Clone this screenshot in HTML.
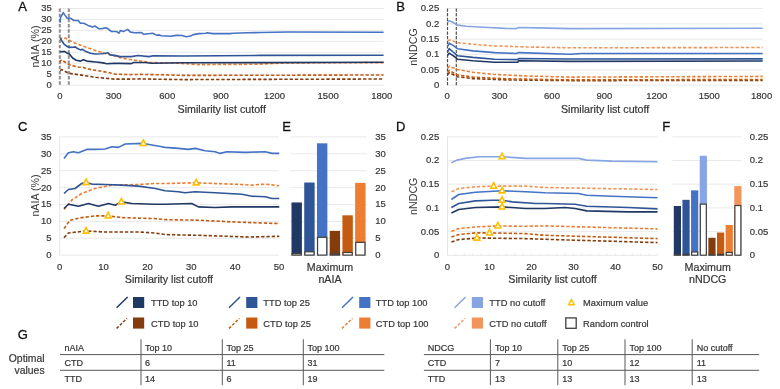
<!DOCTYPE html>
<html><head><meta charset="utf-8"><style>
html,body{margin:0;padding:0;background:#fff;}
body{width:780px;height:389px;overflow:hidden;}
svg{display:block;will-change:transform;font-family:"Liberation Sans",sans-serif;}
</style></head><body>
<svg width="780" height="389" viewBox="0 0 780 389">
<rect width="780" height="389" fill="#fff"/>
<text transform="translate(18.30,11.00) scale(1,1.0)" font-size="13" text-anchor="start" fill="#111" stroke="#111" stroke-width="0.3" >A</text>
<line x1="59.80" y1="85.20" x2="383.60" y2="85.20" stroke="#e3e3e3" stroke-width="0.8" />
<text transform="translate(51.80,88.10) scale(1,1.0)" font-size="9.5" text-anchor="end" fill="#363636" stroke="#363636" stroke-width="0.2" >0</text>
<line x1="59.80" y1="74.24" x2="383.60" y2="74.24" stroke="#e3e3e3" stroke-width="0.8" />
<text transform="translate(51.80,77.14) scale(1,1.0)" font-size="9.5" text-anchor="end" fill="#363636" stroke="#363636" stroke-width="0.2" >5</text>
<line x1="59.80" y1="63.29" x2="383.60" y2="63.29" stroke="#e3e3e3" stroke-width="0.8" />
<text transform="translate(51.80,66.19) scale(1,1.0)" font-size="9.5" text-anchor="end" fill="#363636" stroke="#363636" stroke-width="0.2" >10</text>
<line x1="59.80" y1="52.33" x2="383.60" y2="52.33" stroke="#e3e3e3" stroke-width="0.8" />
<text transform="translate(51.80,55.23) scale(1,1.0)" font-size="9.5" text-anchor="end" fill="#363636" stroke="#363636" stroke-width="0.2" >15</text>
<line x1="59.80" y1="41.37" x2="383.60" y2="41.37" stroke="#e3e3e3" stroke-width="0.8" />
<text transform="translate(51.80,44.27) scale(1,1.0)" font-size="9.5" text-anchor="end" fill="#363636" stroke="#363636" stroke-width="0.2" >20</text>
<line x1="59.80" y1="30.41" x2="383.60" y2="30.41" stroke="#e3e3e3" stroke-width="0.8" />
<text transform="translate(51.80,33.31) scale(1,1.0)" font-size="9.5" text-anchor="end" fill="#363636" stroke="#363636" stroke-width="0.2" >25</text>
<line x1="59.80" y1="19.46" x2="383.60" y2="19.46" stroke="#e3e3e3" stroke-width="0.8" />
<text transform="translate(51.80,22.36) scale(1,1.0)" font-size="9.5" text-anchor="end" fill="#363636" stroke="#363636" stroke-width="0.2" >30</text>
<line x1="59.80" y1="8.50" x2="383.60" y2="8.50" stroke="#e3e3e3" stroke-width="0.8" />
<text transform="translate(51.80,11.40) scale(1,1.0)" font-size="9.5" text-anchor="end" fill="#363636" stroke="#363636" stroke-width="0.2" >35</text>
<text transform="translate(60.00,99.30) scale(1,1.0)" font-size="9.5" text-anchor="middle" fill="#363636" stroke="#363636" stroke-width="0.2" >0</text>
<text transform="translate(113.63,99.30) scale(1,1.0)" font-size="9.5" text-anchor="middle" fill="#363636" stroke="#363636" stroke-width="0.2" >300</text>
<text transform="translate(167.26,99.30) scale(1,1.0)" font-size="9.5" text-anchor="middle" fill="#363636" stroke="#363636" stroke-width="0.2" >600</text>
<text transform="translate(220.89,99.30) scale(1,1.0)" font-size="9.5" text-anchor="middle" fill="#363636" stroke="#363636" stroke-width="0.2" >900</text>
<text transform="translate(274.52,99.30) scale(1,1.0)" font-size="9.5" text-anchor="middle" fill="#363636" stroke="#363636" stroke-width="0.2" >1200</text>
<text transform="translate(328.15,99.30) scale(1,1.0)" font-size="9.5" text-anchor="middle" fill="#363636" stroke="#363636" stroke-width="0.2" >1500</text>
<text transform="translate(381.78,99.30) scale(1,1.0)" font-size="9.5" text-anchor="middle" fill="#363636" stroke="#363636" stroke-width="0.2" >1800</text>
<text transform="translate(221.70,112.70) scale(1,1.0)" font-size="10.7" text-anchor="middle" fill="#363636" stroke="#363636" stroke-width="0.2" >Similarity list cutoff</text>
<text transform="translate(39.3,46.5) rotate(-90)" font-size="10.7" text-anchor="middle" fill="#363636">nAIA (%)</text>
<line x1="59.80" y1="8.50" x2="59.80" y2="85.20" stroke="#8f8f8f" stroke-width="2.0" stroke-dasharray="3.4 1.8"/>
<line x1="68.80" y1="8.50" x2="68.80" y2="85.20" stroke="#8f8f8f" stroke-width="2.0" stroke-dasharray="3.4 1.8"/>
<polyline points="60.00,70.40 61.80,69.70 69.00,73.30 78.00,74.60 86.90,76.00 95.90,77.30 104.90,78.20 113.90,79.10 130.00,79.10 140.10,78.90 162.20,79.30 183.00,79.60 383.60,79.00" fill="none" stroke="#843c0c" stroke-width="1.6" stroke-linejoin="round" stroke-dasharray="3.3 1.95"/>
<polyline points="60.00,62.50 60.60,60.70 61.80,59.80 64.00,61.50 69.00,64.70 78.00,67.00 83.30,67.40 91.40,69.70 100.40,71.00 109.40,72.80 115.70,74.20 130.00,74.60 140.10,74.40 162.20,74.80 183.00,75.40 383.60,75.00" fill="none" stroke="#c55a11" stroke-width="1.6" stroke-linejoin="round" stroke-dasharray="3.3 1.95"/>
<polyline points="60.00,40.50 61.60,38.30 66.00,38.30 72.70,42.20 82.60,46.00 93.70,49.90 104.70,53.20 112.50,55.40 121.30,58.00 129.00,59.40 140.10,61.00 151.10,62.50 178.00,63.30 200.20,64.70 219.60,64.40 255.40,64.30 287.70,62.90 383.60,62.60" fill="none" stroke="#ed7d31" stroke-width="1.6" stroke-linejoin="round" stroke-dasharray="3.3 1.95"/>
<polyline points="60.30,52.10 62.20,51.60 64.90,51.60 67.20,53.20 69.40,54.00 72.60,58.00 76.20,60.20 80.60,61.10 83.30,59.80 86.90,61.10 95.90,62.00 103.10,62.90 106.70,63.80 113.90,63.40 120.00,63.40 131.30,63.60 133.50,62.50 145.60,62.50 151.10,63.20 183.00,62.70 260.00,62.60 383.60,62.30" fill="none" stroke="#203864" stroke-width="1.6" stroke-linejoin="round"/>
<polyline points="60.30,37.80 61.60,40.50 63.80,43.80 67.20,46.60 69.40,47.40 73.20,47.20 75.40,46.90 77.10,48.30 80.40,49.90 82.60,49.40 85.90,51.60 90.40,53.20 94.80,54.00 101.40,53.80 105.80,53.20 108.00,52.70 110.20,54.90 114.70,55.40 120.00,56.60 131.30,56.60 137.90,55.50 148.90,56.60 153.40,55.70 183.00,56.00 260.00,55.40 383.60,55.30" fill="none" stroke="#2f5597" stroke-width="1.6" stroke-linejoin="round"/>
<polyline points="60.00,22.70 60.50,17.70 61.60,15.50 63.30,12.70 64.40,14.40 66.00,16.60 67.20,18.30 69.40,18.00 71.60,18.80 73.80,20.50 78.20,20.50 80.40,23.20 83.70,23.20 88.10,25.40 92.60,27.10 94.80,26.00 99.20,28.80 101.40,28.80 105.80,27.70 108.00,28.80 111.40,31.50 115.80,31.50 117.20,31.80 118.90,33.20 120.50,30.50 123.30,31.60 127.70,29.40 130.50,32.10 134.90,32.70 141.50,32.50 143.70,34.30 152.60,33.20 157.00,35.40 159.20,34.90 161.40,35.80 170.20,36.20 176.90,35.40 182.20,35.50 186.30,36.70 190.50,36.00 193.30,34.60 198.80,33.60 205.80,33.20 207.10,32.80 212.70,33.60 229.30,33.60 233.50,33.20 247.40,32.80 260.00,32.50 287.70,32.00 383.60,32.30" fill="none" stroke="#4472c4" stroke-width="1.6" stroke-linejoin="round"/>
<text transform="translate(396.20,10.60) scale(1,1.0)" font-size="13" text-anchor="start" fill="#111" stroke="#111" stroke-width="0.3" >B</text>
<line x1="447.50" y1="85.20" x2="762.70" y2="85.20" stroke="#e3e3e3" stroke-width="0.8" />
<text transform="translate(439.20,88.10) scale(1,1.0)" font-size="9.5" text-anchor="end" fill="#363636" stroke="#363636" stroke-width="0.2" >0</text>
<line x1="447.50" y1="69.86" x2="762.70" y2="69.86" stroke="#e3e3e3" stroke-width="0.8" />
<text transform="translate(439.20,72.76) scale(1,1.0)" font-size="9.5" text-anchor="end" fill="#363636" stroke="#363636" stroke-width="0.2" >0.05</text>
<line x1="447.50" y1="54.52" x2="762.70" y2="54.52" stroke="#e3e3e3" stroke-width="0.8" />
<text transform="translate(439.20,57.42) scale(1,1.0)" font-size="9.5" text-anchor="end" fill="#363636" stroke="#363636" stroke-width="0.2" >0.1</text>
<line x1="447.50" y1="39.18" x2="762.70" y2="39.18" stroke="#e3e3e3" stroke-width="0.8" />
<text transform="translate(439.20,42.08) scale(1,1.0)" font-size="9.5" text-anchor="end" fill="#363636" stroke="#363636" stroke-width="0.2" >0.15</text>
<line x1="447.50" y1="23.84" x2="762.70" y2="23.84" stroke="#e3e3e3" stroke-width="0.8" />
<text transform="translate(439.20,26.74) scale(1,1.0)" font-size="9.5" text-anchor="end" fill="#363636" stroke="#363636" stroke-width="0.2" >0.2</text>
<line x1="447.50" y1="8.50" x2="762.70" y2="8.50" stroke="#e3e3e3" stroke-width="0.8" />
<text transform="translate(439.20,11.40) scale(1,1.0)" font-size="9.5" text-anchor="end" fill="#363636" stroke="#363636" stroke-width="0.2" >0.25</text>
<text transform="translate(447.20,99.30) scale(1,1.0)" font-size="9.5" text-anchor="middle" fill="#363636" stroke="#363636" stroke-width="0.2" >0</text>
<text transform="translate(499.60,99.30) scale(1,1.0)" font-size="9.5" text-anchor="middle" fill="#363636" stroke="#363636" stroke-width="0.2" >300</text>
<text transform="translate(552.00,99.30) scale(1,1.0)" font-size="9.5" text-anchor="middle" fill="#363636" stroke="#363636" stroke-width="0.2" >600</text>
<text transform="translate(604.40,99.30) scale(1,1.0)" font-size="9.5" text-anchor="middle" fill="#363636" stroke="#363636" stroke-width="0.2" >900</text>
<text transform="translate(656.80,99.30) scale(1,1.0)" font-size="9.5" text-anchor="middle" fill="#363636" stroke="#363636" stroke-width="0.2" >1200</text>
<text transform="translate(709.20,99.30) scale(1,1.0)" font-size="9.5" text-anchor="middle" fill="#363636" stroke="#363636" stroke-width="0.2" >1500</text>
<text transform="translate(761.60,99.30) scale(1,1.0)" font-size="9.5" text-anchor="middle" fill="#363636" stroke="#363636" stroke-width="0.2" >1800</text>
<text transform="translate(605.10,112.70) scale(1,1.0)" font-size="10.7" text-anchor="middle" fill="#363636" stroke="#363636" stroke-width="0.2" >Similarity list cutoff</text>
<text transform="translate(417.0,47) rotate(-90)" font-size="10.7" text-anchor="middle" fill="#363636">nNDCG</text>
<line x1="447.50" y1="8.50" x2="447.50" y2="85.20" stroke="#505050" stroke-width="1.2" stroke-dasharray="3.2 1.4"/>
<line x1="456.30" y1="8.50" x2="456.30" y2="85.20" stroke="#505050" stroke-width="1.2" stroke-dasharray="3.2 1.4"/>
<polyline points="447.60,74.90 449.20,72.70 457.50,76.70 472.80,78.60 505.50,79.90 570.00,80.60 762.70,80.50" fill="none" stroke="#843c0c" stroke-width="1.6" stroke-linejoin="round" stroke-dasharray="3.3 1.95"/>
<polyline points="447.60,72.70 449.20,70.50 457.50,74.90 472.80,77.10 505.50,78.80 570.00,79.90 762.70,79.50" fill="none" stroke="#c55a11" stroke-width="1.6" stroke-linejoin="round" stroke-dasharray="3.3 1.95"/>
<polyline points="447.60,68.40 449.20,66.20 457.50,69.50 472.80,72.30 494.60,74.50 527.40,76.00 570.00,77.10 762.70,76.40" fill="none" stroke="#ed7d31" stroke-width="1.6" stroke-linejoin="round" stroke-dasharray="3.3 1.95"/>
<polyline points="447.60,41.00 449.80,40.00 457.50,42.60 472.80,44.30 494.60,45.90 527.40,47.00 570.00,47.80 762.70,47.50" fill="none" stroke="#f1955b" stroke-width="1.6" stroke-linejoin="round" stroke-dasharray="3.3 1.95"/>
<polyline points="447.60,55.30 449.20,53.10 453.10,55.70 457.50,59.20 472.80,60.70 494.60,62.20 517.60,62.20 518.70,60.70 570.00,61.40 762.70,61.00" fill="none" stroke="#203864" stroke-width="1.6" stroke-linejoin="round"/>
<polyline points="447.60,52.00 449.20,48.70 453.10,52.00 457.50,55.70 472.80,57.40 494.60,59.20 517.60,59.60 518.70,58.50 570.00,59.00 762.70,58.90" fill="none" stroke="#2f5597" stroke-width="1.6" stroke-linejoin="round"/>
<polyline points="447.60,46.50 449.20,43.20 453.10,45.40 457.50,48.70 472.80,50.90 494.60,52.60 516.50,53.50 518.70,52.60 570.00,54.20 581.50,53.50 762.70,53.50" fill="none" stroke="#4472c4" stroke-width="1.6" stroke-linejoin="round"/>
<polyline points="447.60,22.00 449.20,20.70 453.10,22.50 457.50,25.10 466.20,26.20 483.70,27.30 505.50,28.40 516.50,28.60 518.70,27.50 538.30,27.90 570.00,28.60 762.70,28.20" fill="none" stroke="#86a5e2" stroke-width="1.6" stroke-linejoin="round"/>
<text transform="translate(18.00,131.00) scale(1,1.0)" font-size="13" text-anchor="start" fill="#111" stroke="#111" stroke-width="0.3" >C</text>
<line x1="59.75" y1="255.20" x2="279.00" y2="255.20" stroke="#e3e3e3" stroke-width="0.8" />
<text transform="translate(51.60,258.10) scale(1,1.0)" font-size="9.5" text-anchor="end" fill="#363636" stroke="#363636" stroke-width="0.2" >0</text>
<line x1="59.75" y1="238.30" x2="279.00" y2="238.30" stroke="#e3e3e3" stroke-width="0.8" />
<text transform="translate(51.60,241.20) scale(1,1.0)" font-size="9.5" text-anchor="end" fill="#363636" stroke="#363636" stroke-width="0.2" >5</text>
<line x1="59.75" y1="221.40" x2="279.00" y2="221.40" stroke="#e3e3e3" stroke-width="0.8" />
<text transform="translate(51.60,224.30) scale(1,1.0)" font-size="9.5" text-anchor="end" fill="#363636" stroke="#363636" stroke-width="0.2" >10</text>
<line x1="59.75" y1="204.50" x2="279.00" y2="204.50" stroke="#e3e3e3" stroke-width="0.8" />
<text transform="translate(51.60,207.40) scale(1,1.0)" font-size="9.5" text-anchor="end" fill="#363636" stroke="#363636" stroke-width="0.2" >15</text>
<line x1="59.75" y1="187.60" x2="279.00" y2="187.60" stroke="#e3e3e3" stroke-width="0.8" />
<text transform="translate(51.60,190.50) scale(1,1.0)" font-size="9.5" text-anchor="end" fill="#363636" stroke="#363636" stroke-width="0.2" >20</text>
<line x1="59.75" y1="170.70" x2="279.00" y2="170.70" stroke="#e3e3e3" stroke-width="0.8" />
<text transform="translate(51.60,173.60) scale(1,1.0)" font-size="9.5" text-anchor="end" fill="#363636" stroke="#363636" stroke-width="0.2" >25</text>
<line x1="59.75" y1="153.80" x2="279.00" y2="153.80" stroke="#e3e3e3" stroke-width="0.8" />
<text transform="translate(51.60,156.70) scale(1,1.0)" font-size="9.5" text-anchor="end" fill="#363636" stroke="#363636" stroke-width="0.2" >30</text>
<line x1="59.75" y1="136.90" x2="279.00" y2="136.90" stroke="#e3e3e3" stroke-width="0.8" />
<text transform="translate(51.60,139.80) scale(1,1.0)" font-size="9.5" text-anchor="end" fill="#363636" stroke="#363636" stroke-width="0.2" >35</text>
<line x1="59.75" y1="136.90" x2="59.75" y2="255.20" stroke="#e3e3e3" stroke-width="0.9" />
<text transform="translate(59.75,269.90) scale(1,1.0)" font-size="9.5" text-anchor="middle" fill="#363636" stroke="#363636" stroke-width="0.2" >0</text>
<text transform="translate(103.60,269.90) scale(1,1.0)" font-size="9.5" text-anchor="middle" fill="#363636" stroke="#363636" stroke-width="0.2" >10</text>
<text transform="translate(147.45,269.90) scale(1,1.0)" font-size="9.5" text-anchor="middle" fill="#363636" stroke="#363636" stroke-width="0.2" >20</text>
<text transform="translate(191.30,269.90) scale(1,1.0)" font-size="9.5" text-anchor="middle" fill="#363636" stroke="#363636" stroke-width="0.2" >30</text>
<text transform="translate(235.15,269.90) scale(1,1.0)" font-size="9.5" text-anchor="middle" fill="#363636" stroke="#363636" stroke-width="0.2" >40</text>
<text transform="translate(279.00,269.90) scale(1,1.0)" font-size="9.5" text-anchor="middle" fill="#363636" stroke="#363636" stroke-width="0.2" >50</text>
<text transform="translate(168.90,283.30) scale(1,1.0)" font-size="10.7" text-anchor="middle" fill="#363636" stroke="#363636" stroke-width="0.2" >Similarity list cutoff</text>
<text transform="translate(39.3,195.5) rotate(-90)" font-size="10.7" text-anchor="middle" fill="#363636">nAIA (%)</text>
<polyline points="64.00,237.60 68.40,233.00 86.10,231.00 105.10,232.00 138.60,232.00 155.30,233.00 165.00,234.60 198.40,235.30 248.60,237.00 279.30,236.30" fill="none" stroke="#843c0c" stroke-width="1.6" stroke-linejoin="round" stroke-dasharray="3.3 1.95"/>
<polyline points="64.00,228.60 70.00,220.20 81.70,217.60 95.10,215.90 107.80,215.90 121.80,217.60 155.30,218.60 165.00,219.60 198.40,220.20 231.80,221.90 279.30,223.60" fill="none" stroke="#c55a11" stroke-width="1.6" stroke-linejoin="round" stroke-dasharray="3.3 1.95"/>
<polyline points="64.00,209.50 71.70,200.20 81.70,193.50 95.10,188.50 111.80,185.10 138.60,184.50 155.30,183.50 165.00,183.50 195.10,182.80 231.80,184.10 251.90,185.10 265.30,184.10 279.30,185.80" fill="none" stroke="#ed7d31" stroke-width="1.6" stroke-linejoin="round" stroke-dasharray="3.3 1.95"/>
<polyline points="64.00,208.50 68.40,204.20 78.40,206.20 88.40,203.50 98.40,206.20 108.50,203.50 115.20,205.20 121.20,201.90 131.90,203.50 155.30,204.20 165.00,204.20 191.70,203.50 198.40,206.90 215.10,207.50 231.80,206.90 279.30,206.90" fill="none" stroke="#203864" stroke-width="1.6" stroke-linejoin="round"/>
<polyline points="64.00,193.50 68.40,189.50 75.00,188.50 81.70,183.50 86.10,182.50 91.80,184.10 105.10,184.50 121.80,185.10 138.60,186.10 155.30,188.50 165.00,190.80 178.40,191.80 185.00,192.80 195.10,191.80 215.10,192.80 241.90,194.20 251.90,196.20 265.30,196.80 272.00,198.50 279.30,198.50" fill="none" stroke="#2f5597" stroke-width="1.6" stroke-linejoin="round"/>
<polyline points="64.00,158.40 68.40,152.70 73.40,151.70 78.40,152.70 86.80,149.40 95.10,149.40 105.10,149.00 111.80,146.70 118.50,147.40 125.20,144.00 142.60,143.40 151.90,145.00 161.90,146.70 165.00,147.40 178.40,148.40 188.40,149.40 195.10,148.40 205.10,150.70 215.10,151.70 220.10,153.40 226.80,151.70 245.20,152.40 265.30,151.70 272.00,153.40 279.30,153.40" fill="none" stroke="#4472c4" stroke-width="1.6" stroke-linejoin="round"/>
<polygon points="143.35,139.98 146.25,145.49 140.45,145.49" fill="#fff" stroke="#ffc000" stroke-width="1.6" stroke-linejoin="miter"/>
<polygon points="86.15,179.08 89.05,184.59 83.25,184.59" fill="#fff" stroke="#ffc000" stroke-width="1.6" stroke-linejoin="miter"/>
<polygon points="121.35,198.48 124.25,203.99 118.45,203.99" fill="#fff" stroke="#ffc000" stroke-width="1.6" stroke-linejoin="miter"/>
<polygon points="108.15,212.48 111.05,217.99 105.25,217.99" fill="#fff" stroke="#ffc000" stroke-width="1.6" stroke-linejoin="miter"/>
<polygon points="86.15,227.58 89.05,233.09 83.25,233.09" fill="#fff" stroke="#ffc000" stroke-width="1.6" stroke-linejoin="miter"/>
<polygon points="196.15,179.38 199.05,184.89 193.25,184.89" fill="#fff" stroke="#ffc000" stroke-width="1.6" stroke-linejoin="miter"/>
<text transform="translate(282.30,131.00) scale(1,1.0)" font-size="13" text-anchor="start" fill="#111" stroke="#111" stroke-width="0.3" >E</text>
<line x1="290.00" y1="255.20" x2="367.00" y2="255.20" stroke="#e3e3e3" stroke-width="0.8" />
<text transform="translate(375.30,258.10) scale(1,1.0)" font-size="9.5" text-anchor="start" fill="#363636" stroke="#363636" stroke-width="0.2" >0</text>
<line x1="290.00" y1="238.30" x2="367.00" y2="238.30" stroke="#e3e3e3" stroke-width="0.8" />
<text transform="translate(375.30,241.20) scale(1,1.0)" font-size="9.5" text-anchor="start" fill="#363636" stroke="#363636" stroke-width="0.2" >5</text>
<line x1="290.00" y1="221.40" x2="367.00" y2="221.40" stroke="#e3e3e3" stroke-width="0.8" />
<text transform="translate(375.30,224.30) scale(1,1.0)" font-size="9.5" text-anchor="start" fill="#363636" stroke="#363636" stroke-width="0.2" >10</text>
<line x1="290.00" y1="204.50" x2="367.00" y2="204.50" stroke="#e3e3e3" stroke-width="0.8" />
<text transform="translate(375.30,207.40) scale(1,1.0)" font-size="9.5" text-anchor="start" fill="#363636" stroke="#363636" stroke-width="0.2" >15</text>
<line x1="290.00" y1="187.60" x2="367.00" y2="187.60" stroke="#e3e3e3" stroke-width="0.8" />
<text transform="translate(375.30,190.50) scale(1,1.0)" font-size="9.5" text-anchor="start" fill="#363636" stroke="#363636" stroke-width="0.2" >20</text>
<line x1="290.00" y1="170.70" x2="367.00" y2="170.70" stroke="#e3e3e3" stroke-width="0.8" />
<text transform="translate(375.30,173.60) scale(1,1.0)" font-size="9.5" text-anchor="start" fill="#363636" stroke="#363636" stroke-width="0.2" >25</text>
<line x1="290.00" y1="153.80" x2="367.00" y2="153.80" stroke="#e3e3e3" stroke-width="0.8" />
<text transform="translate(375.30,156.70) scale(1,1.0)" font-size="9.5" text-anchor="start" fill="#363636" stroke="#363636" stroke-width="0.2" >30</text>
<line x1="290.00" y1="136.90" x2="367.00" y2="136.90" stroke="#e3e3e3" stroke-width="0.8" />
<text transform="translate(375.30,139.80) scale(1,1.0)" font-size="9.5" text-anchor="start" fill="#363636" stroke="#363636" stroke-width="0.2" >35</text>
<rect x="291.50" y="202.47" width="10.40" height="52.73" fill="#203864" stroke="none" stroke-width="0"/>
<rect x="292.10" y="253.51" width="9.20" height="1.59" fill="#fff" stroke="#3f3f3f" stroke-width="1.2"/>
<rect x="304.23" y="182.53" width="10.40" height="72.67" fill="#2f5597" stroke="none" stroke-width="0"/>
<rect x="304.83" y="251.82" width="9.20" height="3.28" fill="#fff" stroke="#3f3f3f" stroke-width="1.2"/>
<rect x="316.96" y="143.32" width="10.40" height="111.88" fill="#4472c4" stroke="none" stroke-width="0"/>
<rect x="317.56" y="237.29" width="9.20" height="17.81" fill="#fff" stroke="#3f3f3f" stroke-width="1.2"/>
<rect x="329.69" y="230.86" width="10.40" height="24.34" fill="#843c0c" stroke="none" stroke-width="0"/>
<rect x="330.29" y="253.85" width="9.20" height="1.25" fill="#fff" stroke="#3f3f3f" stroke-width="1.2"/>
<rect x="342.42" y="215.32" width="10.40" height="39.88" fill="#c55a11" stroke="none" stroke-width="0"/>
<rect x="343.02" y="252.50" width="9.20" height="2.60" fill="#fff" stroke="#3f3f3f" stroke-width="1.2"/>
<rect x="355.15" y="182.87" width="10.40" height="72.33" fill="#ed7d31" stroke="none" stroke-width="0"/>
<rect x="355.75" y="242.36" width="9.20" height="12.74" fill="#fff" stroke="#3f3f3f" stroke-width="1.2"/>
<text transform="translate(330.00,270.80) scale(1,1.0)" font-size="10.7" text-anchor="middle" fill="#363636" stroke="#363636" stroke-width="0.2" >Maximum</text>
<text transform="translate(330.00,283.40) scale(1,1.0)" font-size="10.7" text-anchor="middle" fill="#363636" stroke="#363636" stroke-width="0.2" >nAIA</text>
<text transform="translate(396.00,131.30) scale(1,1.0)" font-size="13" text-anchor="start" fill="#111" stroke="#111" stroke-width="0.3" >D</text>
<line x1="447.50" y1="255.30" x2="657.50" y2="255.30" stroke="#e3e3e3" stroke-width="0.8" />
<text transform="translate(439.20,258.20) scale(1,1.0)" font-size="9.5" text-anchor="end" fill="#363636" stroke="#363636" stroke-width="0.2" >0</text>
<line x1="447.50" y1="231.60" x2="657.50" y2="231.60" stroke="#e3e3e3" stroke-width="0.8" />
<text transform="translate(439.20,234.50) scale(1,1.0)" font-size="9.5" text-anchor="end" fill="#363636" stroke="#363636" stroke-width="0.2" >0.05</text>
<line x1="447.50" y1="207.90" x2="657.50" y2="207.90" stroke="#e3e3e3" stroke-width="0.8" />
<text transform="translate(439.20,210.80) scale(1,1.0)" font-size="9.5" text-anchor="end" fill="#363636" stroke="#363636" stroke-width="0.2" >0.1</text>
<line x1="447.50" y1="184.20" x2="657.50" y2="184.20" stroke="#e3e3e3" stroke-width="0.8" />
<text transform="translate(439.20,187.10) scale(1,1.0)" font-size="9.5" text-anchor="end" fill="#363636" stroke="#363636" stroke-width="0.2" >0.15</text>
<line x1="447.50" y1="160.50" x2="657.50" y2="160.50" stroke="#e3e3e3" stroke-width="0.8" />
<text transform="translate(439.20,163.40) scale(1,1.0)" font-size="9.5" text-anchor="end" fill="#363636" stroke="#363636" stroke-width="0.2" >0.2</text>
<line x1="447.50" y1="136.80" x2="657.50" y2="136.80" stroke="#e3e3e3" stroke-width="0.8" />
<text transform="translate(439.20,139.70) scale(1,1.0)" font-size="9.5" text-anchor="end" fill="#363636" stroke="#363636" stroke-width="0.2" >0.25</text>
<line x1="447.50" y1="136.80" x2="447.50" y2="255.30" stroke="#e3e3e3" stroke-width="0.9" />
<line x1="455.90" y1="253.50" x2="455.90" y2="255.30" stroke="#e3e3e3" stroke-width="0.8" />
<line x1="464.30" y1="253.50" x2="464.30" y2="255.30" stroke="#e3e3e3" stroke-width="0.8" />
<line x1="472.70" y1="253.50" x2="472.70" y2="255.30" stroke="#e3e3e3" stroke-width="0.8" />
<line x1="481.10" y1="253.50" x2="481.10" y2="255.30" stroke="#e3e3e3" stroke-width="0.8" />
<line x1="489.50" y1="253.50" x2="489.50" y2="255.30" stroke="#e3e3e3" stroke-width="0.8" />
<line x1="497.90" y1="253.50" x2="497.90" y2="255.30" stroke="#e3e3e3" stroke-width="0.8" />
<line x1="506.30" y1="253.50" x2="506.30" y2="255.30" stroke="#e3e3e3" stroke-width="0.8" />
<line x1="514.70" y1="253.50" x2="514.70" y2="255.30" stroke="#e3e3e3" stroke-width="0.8" />
<line x1="523.10" y1="253.50" x2="523.10" y2="255.30" stroke="#e3e3e3" stroke-width="0.8" />
<line x1="531.50" y1="253.50" x2="531.50" y2="255.30" stroke="#e3e3e3" stroke-width="0.8" />
<line x1="539.90" y1="253.50" x2="539.90" y2="255.30" stroke="#e3e3e3" stroke-width="0.8" />
<line x1="548.30" y1="253.50" x2="548.30" y2="255.30" stroke="#e3e3e3" stroke-width="0.8" />
<line x1="556.70" y1="253.50" x2="556.70" y2="255.30" stroke="#e3e3e3" stroke-width="0.8" />
<line x1="565.10" y1="253.50" x2="565.10" y2="255.30" stroke="#e3e3e3" stroke-width="0.8" />
<line x1="573.50" y1="253.50" x2="573.50" y2="255.30" stroke="#e3e3e3" stroke-width="0.8" />
<line x1="581.90" y1="253.50" x2="581.90" y2="255.30" stroke="#e3e3e3" stroke-width="0.8" />
<line x1="590.30" y1="253.50" x2="590.30" y2="255.30" stroke="#e3e3e3" stroke-width="0.8" />
<line x1="598.70" y1="253.50" x2="598.70" y2="255.30" stroke="#e3e3e3" stroke-width="0.8" />
<line x1="607.10" y1="253.50" x2="607.10" y2="255.30" stroke="#e3e3e3" stroke-width="0.8" />
<line x1="615.50" y1="253.50" x2="615.50" y2="255.30" stroke="#e3e3e3" stroke-width="0.8" />
<line x1="623.90" y1="253.50" x2="623.90" y2="255.30" stroke="#e3e3e3" stroke-width="0.8" />
<line x1="632.30" y1="253.50" x2="632.30" y2="255.30" stroke="#e3e3e3" stroke-width="0.8" />
<line x1="640.70" y1="253.50" x2="640.70" y2="255.30" stroke="#e3e3e3" stroke-width="0.8" />
<line x1="649.10" y1="253.50" x2="649.10" y2="255.30" stroke="#e3e3e3" stroke-width="0.8" />
<line x1="657.50" y1="253.50" x2="657.50" y2="255.30" stroke="#e3e3e3" stroke-width="0.8" />
<text transform="translate(447.50,269.90) scale(1,1.0)" font-size="9.5" text-anchor="middle" fill="#363636" stroke="#363636" stroke-width="0.2" >0</text>
<text transform="translate(489.50,269.90) scale(1,1.0)" font-size="9.5" text-anchor="middle" fill="#363636" stroke="#363636" stroke-width="0.2" >10</text>
<text transform="translate(531.50,269.90) scale(1,1.0)" font-size="9.5" text-anchor="middle" fill="#363636" stroke="#363636" stroke-width="0.2" >20</text>
<text transform="translate(573.50,269.90) scale(1,1.0)" font-size="9.5" text-anchor="middle" fill="#363636" stroke="#363636" stroke-width="0.2" >30</text>
<text transform="translate(615.50,269.90) scale(1,1.0)" font-size="9.5" text-anchor="middle" fill="#363636" stroke="#363636" stroke-width="0.2" >40</text>
<text transform="translate(657.50,269.90) scale(1,1.0)" font-size="9.5" text-anchor="middle" fill="#363636" stroke="#363636" stroke-width="0.2" >50</text>
<text transform="translate(552.50,283.30) scale(1,1.0)" font-size="10.7" text-anchor="middle" fill="#363636" stroke="#363636" stroke-width="0.2" >Similarity list cutoff</text>
<text transform="translate(417.0,196.3) rotate(-90)" font-size="10.7" text-anchor="middle" fill="#363636">nNDCG</text>
<polyline points="451.40,242.00 458.70,239.60 477.10,238.00 525.60,238.60 545.00,239.30 657.50,242.60" fill="none" stroke="#843c0c" stroke-width="1.6" stroke-linejoin="round" stroke-dasharray="3.3 1.95"/>
<polyline points="451.40,237.00 458.70,234.60 475.40,232.90 489.80,232.90 525.60,233.60 545.00,235.30 657.50,238.60" fill="none" stroke="#c55a11" stroke-width="1.6" stroke-linejoin="round" stroke-dasharray="3.3 1.95"/>
<polyline points="451.40,231.30 458.70,228.60 475.40,226.90 497.80,225.90 525.60,226.30 545.00,225.90 657.50,228.90" fill="none" stroke="#ed7d31" stroke-width="1.6" stroke-linejoin="round" stroke-dasharray="3.3 1.95"/>
<polyline points="451.40,191.80 458.70,188.50 475.40,186.80 493.80,186.10 525.60,186.10 545.00,187.50 657.50,189.50" fill="none" stroke="#f1955b" stroke-width="1.6" stroke-linejoin="round" stroke-dasharray="3.3 1.95"/>
<polyline points="451.40,212.90 458.70,209.50 475.40,207.50 502.20,206.90 525.60,208.50 545.00,208.50 565.00,207.50 575.10,208.50 586.80,210.90 628.60,211.90 657.50,211.90" fill="none" stroke="#203864" stroke-width="1.6" stroke-linejoin="round"/>
<polyline points="451.40,207.50 458.70,203.50 475.40,200.90 492.10,200.20 502.20,200.20 512.20,201.90 535.60,203.50 545.00,203.50 575.10,204.20 586.80,206.20 628.60,207.50 657.50,208.90" fill="none" stroke="#2f5597" stroke-width="1.6" stroke-linejoin="round"/>
<polyline points="451.40,199.50 458.70,194.50 475.40,192.20 502.20,190.80 525.60,191.80 545.00,192.80 578.40,193.50 586.80,195.20 611.80,196.20 657.50,197.80" fill="none" stroke="#4472c4" stroke-width="1.6" stroke-linejoin="round"/>
<polyline points="451.40,162.80 457.00,160.10 465.40,158.40 478.80,156.70 502.20,156.70 525.60,158.40 545.00,158.40 578.40,158.40 586.80,160.10 611.80,161.10 657.50,161.80" fill="none" stroke="#86a5e2" stroke-width="1.6" stroke-linejoin="round"/>
<polygon points="502.10,153.28 505.00,158.79 499.20,158.79" fill="#fff" stroke="#ffc000" stroke-width="1.6" stroke-linejoin="miter"/>
<polygon points="493.70,182.68 496.60,188.19 490.80,188.19" fill="#fff" stroke="#ffc000" stroke-width="1.6" stroke-linejoin="miter"/>
<polygon points="502.10,187.38 505.00,192.89 499.20,192.89" fill="#fff" stroke="#ffc000" stroke-width="1.6" stroke-linejoin="miter"/>
<polygon points="502.10,196.78 505.00,202.29 499.20,202.29" fill="#fff" stroke="#ffc000" stroke-width="1.6" stroke-linejoin="miter"/>
<polygon points="502.10,203.48 505.00,208.99 499.20,208.99" fill="#fff" stroke="#ffc000" stroke-width="1.6" stroke-linejoin="miter"/>
<polygon points="497.90,222.48 500.80,227.99 495.00,227.99" fill="#fff" stroke="#ffc000" stroke-width="1.6" stroke-linejoin="miter"/>
<polygon points="489.50,229.48 492.40,234.99 486.60,234.99" fill="#fff" stroke="#ffc000" stroke-width="1.6" stroke-linejoin="miter"/>
<polygon points="476.90,234.58 479.80,240.09 474.00,240.09" fill="#fff" stroke="#ffc000" stroke-width="1.6" stroke-linejoin="miter"/>
<text transform="translate(662.30,131.00) scale(1,1.0)" font-size="13" text-anchor="start" fill="#111" stroke="#111" stroke-width="0.3" >F</text>
<line x1="672.50" y1="255.30" x2="741.50" y2="255.30" stroke="#e3e3e3" stroke-width="0.8" />
<text transform="translate(749.80,258.20) scale(1,1.0)" font-size="9.5" text-anchor="start" fill="#363636" stroke="#363636" stroke-width="0.2" >0</text>
<line x1="672.50" y1="231.60" x2="741.50" y2="231.60" stroke="#e3e3e3" stroke-width="0.8" />
<text transform="translate(749.80,234.50) scale(1,1.0)" font-size="9.5" text-anchor="start" fill="#363636" stroke="#363636" stroke-width="0.2" >0.05</text>
<line x1="672.50" y1="207.90" x2="741.50" y2="207.90" stroke="#e3e3e3" stroke-width="0.8" />
<text transform="translate(749.80,210.80) scale(1,1.0)" font-size="9.5" text-anchor="start" fill="#363636" stroke="#363636" stroke-width="0.2" >0.1</text>
<line x1="672.50" y1="184.20" x2="741.50" y2="184.20" stroke="#e3e3e3" stroke-width="0.8" />
<text transform="translate(749.80,187.10) scale(1,1.0)" font-size="9.5" text-anchor="start" fill="#363636" stroke="#363636" stroke-width="0.2" >0.15</text>
<line x1="672.50" y1="160.50" x2="741.50" y2="160.50" stroke="#e3e3e3" stroke-width="0.8" />
<text transform="translate(749.80,163.40) scale(1,1.0)" font-size="9.5" text-anchor="start" fill="#363636" stroke="#363636" stroke-width="0.2" >0.2</text>
<line x1="672.50" y1="136.80" x2="741.50" y2="136.80" stroke="#e3e3e3" stroke-width="0.8" />
<text transform="translate(749.80,139.70) scale(1,1.0)" font-size="9.5" text-anchor="start" fill="#363636" stroke="#363636" stroke-width="0.2" >0.25</text>
<rect x="673.80" y="206.00" width="7.20" height="49.30" fill="#203864" stroke="none" stroke-width="0"/>
<rect x="674.40" y="254.35" width="6.00" height="0.85" fill="#fff" stroke="#3f3f3f" stroke-width="1.2"/>
<rect x="682.44" y="199.84" width="7.20" height="55.46" fill="#2f5597" stroke="none" stroke-width="0"/>
<rect x="683.04" y="254.35" width="6.00" height="0.85" fill="#fff" stroke="#3f3f3f" stroke-width="1.2"/>
<rect x="691.08" y="190.36" width="7.20" height="64.94" fill="#4472c4" stroke="none" stroke-width="0"/>
<rect x="691.68" y="251.98" width="6.00" height="3.22" fill="#fff" stroke="#3f3f3f" stroke-width="1.2"/>
<rect x="699.72" y="155.76" width="7.20" height="99.54" fill="#86a5e2" stroke="none" stroke-width="0"/>
<rect x="700.32" y="204.11" width="6.00" height="51.09" fill="#fff" stroke="#3f3f3f" stroke-width="1.2"/>
<rect x="708.36" y="237.76" width="7.20" height="17.54" fill="#843c0c" stroke="none" stroke-width="0"/>
<rect x="708.96" y="254.83" width="6.00" height="0.37" fill="#fff" stroke="#3f3f3f" stroke-width="1.2"/>
<rect x="717.00" y="232.55" width="7.20" height="22.75" fill="#c55a11" stroke="none" stroke-width="0"/>
<rect x="717.60" y="254.35" width="6.00" height="0.85" fill="#fff" stroke="#3f3f3f" stroke-width="1.2"/>
<rect x="725.64" y="224.96" width="7.20" height="30.34" fill="#ed7d31" stroke="none" stroke-width="0"/>
<rect x="726.24" y="252.46" width="6.00" height="2.74" fill="#fff" stroke="#3f3f3f" stroke-width="1.2"/>
<rect x="734.28" y="186.10" width="7.20" height="69.20" fill="#f1955b" stroke="none" stroke-width="0"/>
<rect x="734.88" y="205.53" width="6.00" height="49.67" fill="#fff" stroke="#3f3f3f" stroke-width="1.2"/>
<text transform="translate(707.70,270.80) scale(1,1.0)" font-size="10.7" text-anchor="middle" fill="#363636" stroke="#363636" stroke-width="0.2" >Maximum</text>
<text transform="translate(707.70,283.40) scale(1,1.0)" font-size="10.7" text-anchor="middle" fill="#363636" stroke="#363636" stroke-width="0.2" >nNDCG</text>
<line x1="116.60" y1="307.80" x2="127.60" y2="297.00" stroke="#203864" stroke-width="1.5" />
<rect x="133.00" y="297.00" width="11.20" height="11.00" fill="#203864" stroke="none" stroke-width="0"/>
<text transform="translate(151.00,306.30) scale(1,1.0)" font-size="9.3" text-anchor="start" fill="#363636" stroke="#363636" stroke-width="0.2" >TTD top 10</text>
<line x1="116.60" y1="328.40" x2="127.00" y2="318.40" stroke="#843c0c" stroke-width="1.5" stroke-dasharray="2.8 1.8"/>
<rect x="133.00" y="317.50" width="11.20" height="11.10" fill="#843c0c" stroke="none" stroke-width="0"/>
<text transform="translate(151.00,326.60) scale(1,1.0)" font-size="9.3" text-anchor="start" fill="#363636" stroke="#363636" stroke-width="0.2" >CTD top 10</text>
<line x1="229.00" y1="307.80" x2="240.00" y2="297.00" stroke="#2f5597" stroke-width="1.5" />
<rect x="246.20" y="297.00" width="11.20" height="11.00" fill="#2f5597" stroke="none" stroke-width="0"/>
<text transform="translate(263.30,306.30) scale(1,1.0)" font-size="9.3" text-anchor="start" fill="#363636" stroke="#363636" stroke-width="0.2" >TTD top 25</text>
<line x1="229.00" y1="328.40" x2="239.40" y2="318.40" stroke="#c55a11" stroke-width="1.5" stroke-dasharray="2.8 1.8"/>
<rect x="246.20" y="317.50" width="11.20" height="11.10" fill="#c55a11" stroke="none" stroke-width="0"/>
<text transform="translate(263.30,326.60) scale(1,1.0)" font-size="9.3" text-anchor="start" fill="#363636" stroke="#363636" stroke-width="0.2" >CTD top 25</text>
<line x1="342.00" y1="307.80" x2="353.00" y2="297.00" stroke="#4472c4" stroke-width="1.5" />
<rect x="359.20" y="297.00" width="11.20" height="11.00" fill="#4472c4" stroke="none" stroke-width="0"/>
<text transform="translate(375.80,306.30) scale(1,1.0)" font-size="9.3" text-anchor="start" fill="#363636" stroke="#363636" stroke-width="0.2" >TTD top 100</text>
<line x1="342.00" y1="328.40" x2="352.40" y2="318.40" stroke="#ed7d31" stroke-width="1.5" stroke-dasharray="2.8 1.8"/>
<rect x="359.20" y="317.50" width="11.20" height="11.10" fill="#ed7d31" stroke="none" stroke-width="0"/>
<text transform="translate(375.80,326.60) scale(1,1.0)" font-size="9.3" text-anchor="start" fill="#363636" stroke="#363636" stroke-width="0.2" >CTD top 100</text>
<line x1="454.60" y1="307.80" x2="465.60" y2="297.00" stroke="#86a5e2" stroke-width="1.5" />
<rect x="471.80" y="297.00" width="11.20" height="11.00" fill="#86a5e2" stroke="none" stroke-width="0"/>
<text transform="translate(489.30,306.30) scale(1,1.0)" font-size="9.3" text-anchor="start" fill="#363636" stroke="#363636" stroke-width="0.2" >TTD no cutoff</text>
<line x1="454.60" y1="328.40" x2="465.00" y2="318.40" stroke="#f1955b" stroke-width="1.5" stroke-dasharray="2.8 1.8"/>
<rect x="471.80" y="317.50" width="11.20" height="11.10" fill="#f1955b" stroke="none" stroke-width="0"/>
<text transform="translate(489.30,326.60) scale(1,1.0)" font-size="9.3" text-anchor="start" fill="#363636" stroke="#363636" stroke-width="0.2" >CTD no cutoff</text>
<polygon points="571.40,299.50 574.20,304.82 568.60,304.82" fill="#fff" stroke="#ffc000" stroke-width="1.5" stroke-linejoin="miter"/>
<rect x="565.80" y="317.90" width="10.40" height="10.40" fill="#fff" stroke="#3f3f3f" stroke-width="1.3"/>
<text transform="translate(583.00,306.30) scale(1,1.0)" font-size="9.3" text-anchor="start" fill="#363636" stroke="#363636" stroke-width="0.2" >Maximum value</text>
<text transform="translate(583.00,326.60) scale(1,1.0)" font-size="9.3" text-anchor="start" fill="#363636" stroke="#363636" stroke-width="0.2" >Random control</text>
<text transform="translate(17.80,339.00) scale(1,1.0)" font-size="13" text-anchor="start" fill="#111" stroke="#111" stroke-width="0.3" >G</text>
<text transform="translate(44.60,361.80) scale(1,1.0)" font-size="10.4" text-anchor="end" fill="#363636" stroke="#363636" stroke-width="0.2" >Optimal</text>
<text transform="translate(44.60,374.40) scale(1,1.0)" font-size="10.4" text-anchor="end" fill="#363636" stroke="#363636" stroke-width="0.2" >values</text>
<line x1="60.00" y1="354.60" x2="384.30" y2="354.60" stroke="#595959" stroke-width="1.0" />
<line x1="60.00" y1="370.30" x2="384.30" y2="370.30" stroke="#595959" stroke-width="1.0" />
<line x1="141.00" y1="339.30" x2="141.00" y2="385.20" stroke="#595959" stroke-width="1.0" />
<line x1="222.30" y1="339.30" x2="222.30" y2="385.20" stroke="#595959" stroke-width="1.0" />
<line x1="303.30" y1="339.30" x2="303.30" y2="385.20" stroke="#595959" stroke-width="1.0" />
<text transform="translate(64.40,350.60) scale(1,1.0)" font-size="9" text-anchor="start" fill="#333" stroke="#333" stroke-width="0.2" >nAIA</text>
<text transform="translate(145.00,350.60) scale(1,1.0)" font-size="9" text-anchor="start" fill="#333" stroke="#333" stroke-width="0.2" >Top 10</text>
<text transform="translate(226.50,350.60) scale(1,1.0)" font-size="9" text-anchor="start" fill="#333" stroke="#333" stroke-width="0.2" >Top 25</text>
<text transform="translate(307.50,350.60) scale(1,1.0)" font-size="9" text-anchor="start" fill="#333" stroke="#333" stroke-width="0.2" >Top 100</text>
<text transform="translate(64.40,366.20) scale(1,1.0)" font-size="9" text-anchor="start" fill="#333" stroke="#333" stroke-width="0.2" >CTD</text>
<text transform="translate(145.00,366.20) scale(1,1.0)" font-size="9" text-anchor="start" fill="#333" stroke="#333" stroke-width="0.2" >6</text>
<text transform="translate(226.50,366.20) scale(1,1.0)" font-size="9" text-anchor="start" fill="#333" stroke="#333" stroke-width="0.2" >11</text>
<text transform="translate(307.50,366.20) scale(1,1.0)" font-size="9" text-anchor="start" fill="#333" stroke="#333" stroke-width="0.2" >31</text>
<text transform="translate(64.40,381.60) scale(1,1.0)" font-size="9" text-anchor="start" fill="#333" stroke="#333" stroke-width="0.2" >TTD</text>
<text transform="translate(145.00,381.60) scale(1,1.0)" font-size="9" text-anchor="start" fill="#333" stroke="#333" stroke-width="0.2" >14</text>
<text transform="translate(226.50,381.60) scale(1,1.0)" font-size="9" text-anchor="start" fill="#333" stroke="#333" stroke-width="0.2" >6</text>
<text transform="translate(307.50,381.60) scale(1,1.0)" font-size="9" text-anchor="start" fill="#333" stroke="#333" stroke-width="0.2" >19</text>
<line x1="423.90" y1="354.60" x2="759.20" y2="354.60" stroke="#595959" stroke-width="1.0" />
<line x1="423.90" y1="370.30" x2="759.20" y2="370.30" stroke="#595959" stroke-width="1.0" />
<line x1="490.40" y1="339.30" x2="490.40" y2="385.20" stroke="#595959" stroke-width="1.0" />
<line x1="557.80" y1="339.30" x2="557.80" y2="385.20" stroke="#595959" stroke-width="1.0" />
<line x1="625.00" y1="339.30" x2="625.00" y2="385.20" stroke="#595959" stroke-width="1.0" />
<line x1="692.20" y1="339.30" x2="692.20" y2="385.20" stroke="#595959" stroke-width="1.0" />
<text transform="translate(427.80,350.60) scale(1,1.0)" font-size="9" text-anchor="start" fill="#333" stroke="#333" stroke-width="0.2" >NDCG</text>
<text transform="translate(495.00,350.60) scale(1,1.0)" font-size="9" text-anchor="start" fill="#333" stroke="#333" stroke-width="0.2" >Top 10</text>
<text transform="translate(562.30,350.60) scale(1,1.0)" font-size="9" text-anchor="start" fill="#333" stroke="#333" stroke-width="0.2" >Top 25</text>
<text transform="translate(629.50,350.60) scale(1,1.0)" font-size="9" text-anchor="start" fill="#333" stroke="#333" stroke-width="0.2" >Top 100</text>
<text transform="translate(696.70,350.60) scale(1,1.0)" font-size="9" text-anchor="start" fill="#333" stroke="#333" stroke-width="0.2" >No cutoff</text>
<text transform="translate(427.80,366.20) scale(1,1.0)" font-size="9" text-anchor="start" fill="#333" stroke="#333" stroke-width="0.2" >CTD</text>
<text transform="translate(495.00,366.20) scale(1,1.0)" font-size="9" text-anchor="start" fill="#333" stroke="#333" stroke-width="0.2" >7</text>
<text transform="translate(562.30,366.20) scale(1,1.0)" font-size="9" text-anchor="start" fill="#333" stroke="#333" stroke-width="0.2" >10</text>
<text transform="translate(629.50,366.20) scale(1,1.0)" font-size="9" text-anchor="start" fill="#333" stroke="#333" stroke-width="0.2" >12</text>
<text transform="translate(696.70,366.20) scale(1,1.0)" font-size="9" text-anchor="start" fill="#333" stroke="#333" stroke-width="0.2" >11</text>
<text transform="translate(427.80,381.60) scale(1,1.0)" font-size="9" text-anchor="start" fill="#333" stroke="#333" stroke-width="0.2" >TTD</text>
<text transform="translate(495.00,381.60) scale(1,1.0)" font-size="9" text-anchor="start" fill="#333" stroke="#333" stroke-width="0.2" >13</text>
<text transform="translate(562.30,381.60) scale(1,1.0)" font-size="9" text-anchor="start" fill="#333" stroke="#333" stroke-width="0.2" >13</text>
<text transform="translate(629.50,381.60) scale(1,1.0)" font-size="9" text-anchor="start" fill="#333" stroke="#333" stroke-width="0.2" >13</text>
<text transform="translate(696.70,381.60) scale(1,1.0)" font-size="9" text-anchor="start" fill="#333" stroke="#333" stroke-width="0.2" >13</text>
</svg>
</body></html>
